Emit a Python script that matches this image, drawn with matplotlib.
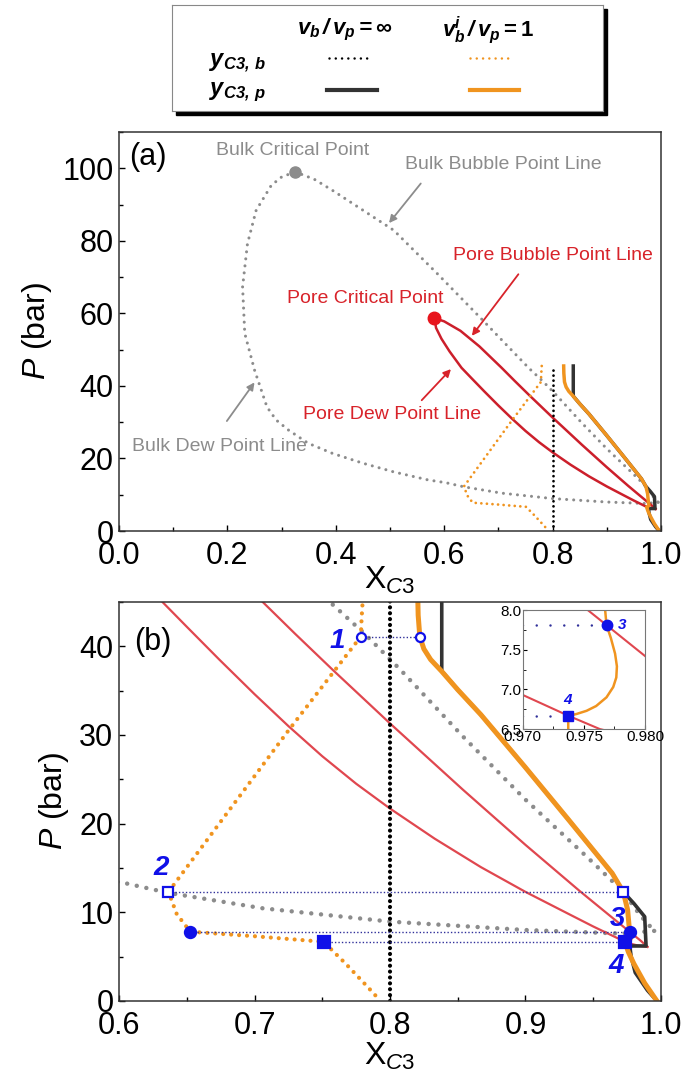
import matplotlib
matplotlib.use('Agg')
import matplotlib.pyplot as plt
from matplotlib.patches import Rectangle
from matplotlib.ticker import MultipleLocator

plt.rcParams['font.family'] = ['Liberation Sans', 'DejaVu Sans']
plt.rcParams['mathtext.fontset'] = 'custom'
plt.rcParams['mathtext.rm'] = 'Liberation Sans'
plt.rcParams['mathtext.it'] = 'Liberation Sans:italic'
plt.rcParams['mathtext.bf'] = 'Liberation Sans:bold'
plt.rcParams['mathtext.bfit'] = 'Liberation Sans:italic:bold'

# bulk envelope (vb/vp = inf), dew and bubble branches
bulk_dew_x = [0.995, 0.971, 0.900, 0.800, 0.706, 0.636, 0.604, 0.570, 0.507,
              0.450, 0.394, 0.349, 0.313, 0.290, 0.273, 0.250, 0.232, 0.228,
              0.237, 0.253, 0.281, 0.300, 0.325]
bulk_dew_p = [7.9, 7.6, 8.0, 8.95, 10.45, 12.2, 13.3, 14.1, 16.3,
              18.7, 21.4, 24.2, 27.8, 30.6, 34.2, 44.4, 54.5, 67.3,
              79.2, 88.4, 95.3, 97.6, 99.0]
bulk_bub_x = [0.325, 0.360, 0.394, 0.507, 0.587, 0.668, 0.757, 0.782, 0.808,
              0.854, 0.900, 0.945, 0.971, 0.985, 0.995]
bulk_bub_p = [99.0, 97.0, 93.9, 82.9, 71.0, 58.6, 44.8, 41.3, 37.3,
              29.8, 22.7, 16.3, 12.5, 9.6, 7.9]
bulk_crit = (0.325, 99.0)

# pore envelope
pore_bub_x = [0.582, 0.600, 0.630, 0.665, 0.706, 0.730, 0.758, 0.800, 0.854,
              0.900, 0.940, 0.964, 0.97685, 0.980, 0.985, 0.990]
pore_bub_p = [58.7, 57.8, 55.2, 50.9, 45.0, 41.4, 37.3, 31.3, 23.8,
              17.6, 12.4, 9.4, 7.81, 7.42, 6.8, 6.1]
pore_dew_x = [0.582, 0.585, 0.595, 0.610, 0.632, 0.650, 0.674, 0.700, 0.725,
              0.750, 0.775, 0.800, 0.833, 0.867, 0.900, 0.932, 0.950, 0.970,
              0.9737, 0.9763, 0.983, 0.990]
pore_dew_p = [58.7, 56.0, 53.0, 49.5, 45.0, 42.2, 38.5, 34.6, 31.0,
              27.6, 24.5, 21.7, 18.3, 15.1, 12.3, 9.8, 8.4, 6.93,
              6.67, 6.5, 6.25, 6.1]
pore_crit = (0.582, 58.7)

# vb^i/vp = 1 : y_C3,b (dotted) and y_C3,p (solid)
yb1_x = [0.780, 0.779, 0.7785, 0.7253, 0.6365, 0.6426, 0.6526, 0.700, 0.751,
         0.767, 0.7834, 0.793]
yb1_p = [45.5, 43.0, 41.1, 30.55, 12.3, 9.8, 7.81, 7.3, 6.67, 4.25, 1.6, 0.0]
yp1_x = [0.8205, 0.8208, 0.822, 0.825, 0.830, 0.838, 0.850, 0.867, 0.8996,
         0.932, 0.964, 0.9722, 0.9754, 0.97685, 0.9772, 0.97755, 0.9777,
         0.97765, 0.9774, 0.97685, 0.9760, 0.97522, 0.9744, 0.97386, 0.97372,
         0.97372, 0.976, 0.980, 0.988, 0.997]
yp1_p = [45.5, 43.5, 41.1, 39.7, 38.5, 37.2, 35.1, 32.3, 26.4,
         20.4, 14.4, 12.3, 10.26, 7.81, 7.65, 7.45, 7.29,
         7.15, 7.03, 6.90, 6.79, 6.73, 6.69, 6.67, 6.6,
         6.5, 5.5, 4.2, 2.0, 0.0]

# vb/vp = inf : y_C3,b (dotted) and y_C3,p (solid)
ybinf_x = [0.80, 0.80]
ybinf_p = [0.0, 45.5]
ypinf_x = [0.8382, 0.8382, 0.850, 0.867, 0.8996, 0.932, 0.964, 0.9722, 0.980,
           0.988, 0.989, 0.977, 0.978, 0.981, 0.990, 0.997]
ypinf_p = [45.5, 37.2, 35.1, 32.3, 26.4, 20.4, 14.4, 12.3, 11.0,
           9.5, 6.2, 6.2, 5.0, 3.2, 1.2, 0.0]

# tie lines 1-4
tie_p = [41.1, 12.3, 7.81, 6.67]
tie_left = [0.7785, 0.6365, 0.6526, 0.751]
tie_right = [0.822, 0.9722, 0.97685, 0.9737]
tie_labels = ['1', '2', '3', '4']
tie_marker = ['o', 's', 'o', 's']
tie_filled = [False, False, True, True]
tie_label_off = [(-17, -3), (-5, 17), (-9, 9.5), (-6.5, -17.5)]

GRAY = '#8c8c8c'
RED_A = '#cc1f2b'
RED_B = '#e0474f'
RED_T = '#d8232a'
ORANGE = '#f0941f'
DARK = '#333333'
BLUE = '#1010e8'
TIE = '#30309a'


def dotted(lw, gap):
    return dict(lw=lw, linestyle=(0, (0.01, gap)), dash_capstyle='round')


fig = plt.figure(figsize=(6.86, 10.82), dpi=100)
ax_a = fig.add_axes([0.1735, 0.5092, 0.790, 0.3688])
ax_b = fig.add_axes([0.1735, 0.0749, 0.790, 0.3688])
ax_in = fig.add_axes([0.762, 0.3262, 0.1783, 0.110])
ax_leg = fig.add_axes([0.2507, 0.8974, 0.6283, 0.0979])

# ---------------- panel (a)
ax = ax_a
ax.plot(bulk_dew_x, bulk_dew_p, color=GRAY, **dotted(2.2, 2.3))
ax.plot(bulk_bub_x, bulk_bub_p, color=GRAY, **dotted(2.2, 2.3))
ax.plot(*bulk_crit, 'o', color=GRAY, ms=8)
ax.plot(pore_bub_x, pore_bub_p, color=RED_A, lw=1.8)
ax.plot(pore_dew_x, pore_dew_p, color=RED_A, lw=1.8)
ax.plot(*pore_crit, 'o', color='#e8141c', ms=9)
ax.plot(ybinf_x, ybinf_p, color='black', **dotted(2.0, 1.8))
ax.plot(yb1_x, yb1_p, color=ORANGE, **dotted(2.0, 2.0))
ax.plot(ypinf_x, ypinf_p, color=DARK, lw=2.5)
ax.plot(yp1_x, yp1_p, color=ORANGE, lw=2.5)

ax.text(0.0535, 103, '(a)', fontsize=22, ha='center', va='center')
ax.text(0.32, 105, 'Bulk Critical Point', color=GRAY, fontsize=14, ha='center', va='center')
ax.text(0.71, 101, 'Bulk Bubble Point Line', color=GRAY, fontsize=14, ha='center', va='center')
ax.text(0.186, 23.2, 'Bulk Dew Point Line', color=GRAY, fontsize=14, ha='center', va='center')
ax.text(0.80, 76, 'Pore Bubble Point Line', color=RED_T, fontsize=14, ha='center', va='center')
ax.text(0.454, 64, 'Pore Critical Point', color=RED_T, fontsize=14, ha='center', va='center')
ax.text(0.503, 32, 'Pore Dew Point Line', color=RED_T, fontsize=14, ha='center', va='center')
arrows = [((0.56, 96.4), (0.495, 84.3), GRAY),
          ((0.196, 29.7), (0.253, 41.6), GRAY),
          ((0.74, 71.4), (0.648, 53.2), RED_T),
          ((0.555, 35.5), (0.616, 45.2), RED_T)]
for tail, tip, c in arrows:
    ax.annotate('', xy=tip, xytext=tail,
                arrowprops=dict(arrowstyle='-|>', color=c, lw=1.3, mutation_scale=11))
ax.set_xlim(0, 1.0)
ax.set_ylim(0, 110)
ax.xaxis.set_minor_locator(MultipleLocator(0.1))
ax.yaxis.set_major_locator(MultipleLocator(20))
ax.yaxis.set_minor_locator(MultipleLocator(10))

# ---------------- panel (b)
ax = ax_b
ax.plot(bulk_dew_x, bulk_dew_p, color=GRAY, **dotted(3.2, 2.2))
ax.plot(bulk_bub_x, bulk_bub_p, color=GRAY, **dotted(3.2, 2.2))
ax.plot(pore_bub_x, pore_bub_p, color=RED_B, lw=1.6)
ax.plot(pore_dew_x, pore_dew_p, color=RED_B, lw=1.6)
ax.plot(ybinf_x, ybinf_p, color='black', **dotted(3.0, 1.4))
ax.plot(yb1_x, yb1_p, color=ORANGE, **dotted(3.0, 1.9))
ax.plot(ypinf_x, ypinf_p, color=DARK, lw=2.6)
ax.plot(yp1_x, yp1_p, color=ORANGE, lw=3.6)
for p, xl, xr, lab, m, f, off in zip(tie_p, tie_left, tie_right, tie_labels,
                                     tie_marker, tie_filled, tie_label_off):
    ax.plot([xl, xr], [p, p], color=TIE, lw=1.0, linestyle=(0, (1, 1.5)), zorder=4)
    fc = BLUE if f else 'white'
    ms = 8 if f else 6.5
    ax.plot([xl, xr], [p, p], m, ls='none', mfc=fc, mec=BLUE, mew=1.6, ms=ms, zorder=5)
    anchor = xl if lab in ('1', '2') else xr
    ax.annotate(lab, (anchor, p), xytext=off, textcoords='offset points',
                ha='center', va='center', color=BLUE, fontsize=20,
                fontweight='bold', fontstyle='italic', zorder=6)
ax.text(0.625, 40.5, '(b)', fontsize=22, ha='center', va='center')
ax.set_xlim(0.6, 1.0)
ax.set_ylim(0, 45)
ax.xaxis.set_minor_locator(MultipleLocator(0.05))
ax.yaxis.set_major_locator(MultipleLocator(10))
ax.yaxis.set_minor_locator(MultipleLocator(5))

for ax in (ax_a, ax_b):
    ax.tick_params(which='both', direction='in', top=False, right=False, labelsize=22)
    ax.tick_params(which='major', length=4, width=1)
    ax.tick_params(which='minor', length=3, width=1)
    ax.tick_params(axis='x', pad=7)
    ax.tick_params(axis='y', pad=4)
    for s in ax.spines.values():
        s.set_color(DARK)
        s.set_linewidth(1.1)
    ax.set_ylabel(r'$P$ (bar)', fontsize=23, labelpad=6)

ax_a.set_xlabel(r'X$_{\mathit{C3}}$', fontsize=23, labelpad=-4)
ax_b.set_xlabel(r'X$_{\mathit{C3}}$', fontsize=23, labelpad=0)
ax_a.set_xticks([0.0, 0.2, 0.4, 0.6, 0.8, 1.0])
ax_a.set_xticklabels(['0.0', '0.2', '0.4', '0.6', '0.8', '1.0'])
ax_b.set_xticks([0.6, 0.7, 0.8, 0.9, 1.0])
ax_b.set_xticklabels(['0.6', '0.7', '0.8', '0.9', '1.0'])

# ---------------- inset
ax = ax_in
ax.plot(pore_bub_x, pore_bub_p, color=RED_B, lw=1.5)
ax.plot(pore_dew_x, pore_dew_p, color=RED_B, lw=1.5)
ax.plot(yp1_x, yp1_p, color=ORANGE, lw=1.8)
for p, xl, xr, lab, m in zip(tie_p[2:], tie_left[2:], tie_right[2:],
                             tie_labels[2:], tie_marker[2:]):
    ax.plot([xl, xr], [p, p], color=TIE, **dotted(1.8, 5.5))
    ax.plot([xr], [p], m, color=BLUE, ms=7.5, zorder=5)
    off = (11, 0) if lab == '3' else (0, 11)
    ax.annotate(lab, (xr, p), xytext=off, textcoords='offset points',
                ha='center', va='center', color=BLUE, fontsize=11,
                fontweight='bold', fontstyle='italic')
ax.set_xlim(0.970, 0.980)
ax.set_ylim(6.5, 8.0)
ax.set_xticks([0.970, 0.975, 0.980])
ax.set_xticklabels(['0.970', '0.975', '0.980'])
ax.set_yticks([6.5, 7.0, 7.5, 8.0])
ax.set_yticklabels(['6.5', '7.0', '7.5', '8.0'])
ax.xaxis.set_minor_locator(MultipleLocator(0.0025))
ax.yaxis.set_minor_locator(MultipleLocator(0.25))
ax.tick_params(which='both', direction='in', top=False, right=False, labelsize=11, pad=1)
ax.tick_params(which='major', length=3)
ax.tick_params(which='minor', length=2)
for s in ax.spines.values():
    s.set_color('#777777')

# ---------------- legend box
ax = ax_leg
ax.set_xlim(172, 603)
ax.set_ylim(111, 5)
ax.set_xticks([])
ax.set_yticks([])
for s in ax.spines.values():
    s.set_color('#888888')
ax.text(345, 30, r'$\mathbfit{v_b\,/\,v_p=\infty}$', fontsize=16, ha='center', va='center')
ax.text(488, 30, r'$\mathbfit{v_b^i\,/\,v_p}\mathbf{=1}$', fontsize=16, ha='center', va='center')
ax.text(237, 63, r'$\mathbfit{y}_{\mathbfit{C3,\,b}}$', fontsize=17, ha='center', va='center')
ax.text(237, 92, r'$\mathbfit{y}_{\mathbfit{C3,\,p}}$', fontsize=17, ha='center', va='center')
ax.plot([329, 370], [58, 58], color='black', **dotted(1.8, 2.5))
ax.plot([470, 512], [58, 58], color=ORANGE, **dotted(1.8, 2.5))
ax.plot([327, 377], [90, 90], color=DARK, lw=3)
ax.plot([470, 519], [90, 90], color=ORANGE, lw=3)
pos = ax.get_position()
fig.patches.append(Rectangle((pos.x0 + 4 / 686, pos.y0 - 4 / 1082), pos.width, pos.height,
                             transform=fig.transFigure, color='black', zorder=-1))

fig.savefig('out.png', dpi=100)
